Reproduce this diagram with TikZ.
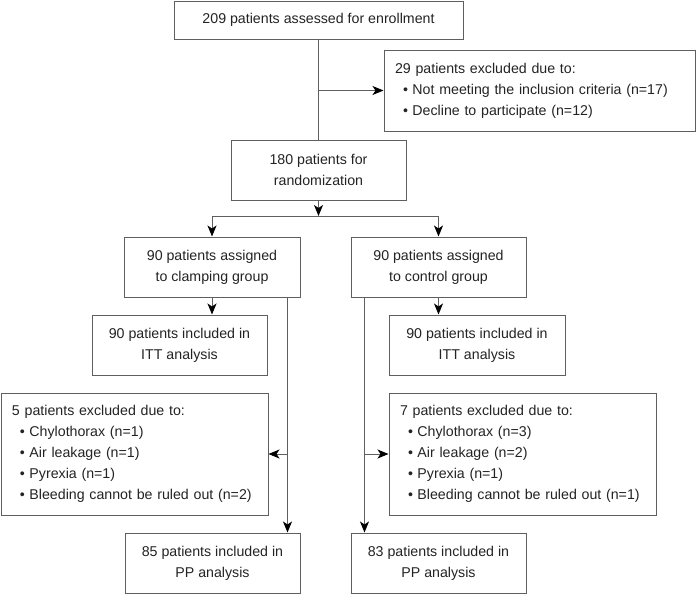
\documentclass[tikz,border=0pt]{standalone}
\usepackage{fontspec}
\setmainfont{Liberation Sans}
\usetikzlibrary{arrows.meta}

\definecolor{linegray}{RGB}{95,95,95}
\definecolor{textgray}{RGB}{35,35,35}
\newcommand{\bulletitem}{\hspace*{8pt}\textbullet\hspace{4.5pt}}

\begin{document}
\begin{tikzpicture}[x=1pt,y=-1pt,
    box/.style={draw=linegray, line width=1pt, text=textgray, inner sep=0pt,
        minimum width=175, minimum height=60, align=center,
        font=\fontsize{14.2}{21}\selectfont},
    exclbox/.style={box, inner xsep=11pt, text width=#1-22pt, align=left},
    link/.style={draw=linegray, line width=1pt},
    arrow/.style={link, -{Stealth[length=11pt,width=9pt,inset=3pt,color=black]}},
]
    \useasboundingbox (0,0) rectangle (696,595);

    \node[box, minimum width=289, minimum height=38] (enrol) at (318.5,20)
        {209 patients assessed for enrollment};
    \node[exclbox=311pt, minimum height=81] (excl) at (539.5,90.5)
        {29 patients excluded due to:\\
         \bulletitem Not meeting the inclusion criteria (n=17)\\
         \bulletitem Decline to participate (n=12)};
    \node[box] (rand) at (318.5,170) {180 patients for\\randomization};

    \node[box, minimum width=176] (clamp) at (212,267) {90 patients assigned\\to clamping group};
    \node[box] (ctrl) at (438.5,267) {90 patients assigned\\to control group};
    \node[box] (ittL) at (179.5,345) {90 patients included in\\ITT analysis};
    \node[box, minimum width=176] (ittR) at (477,345) {90 patients included in\\ITT analysis};

    \node[exclbox=267pt, minimum height=122] (exclL) at (134.5,454)
        {5 patients excluded due to:\\
         \bulletitem Chylothorax (n=1)\\
         \bulletitem Air leakage (n=1)\\
         \bulletitem Pyrexia (n=1)\\
         \bulletitem Bleeding cannot be ruled out (n=2)};
    \node[exclbox=267pt, minimum height=122] (exclR) at (522.5,454)
        {7 patients excluded due to:\\
         \bulletitem Chylothorax (n=3)\\
         \bulletitem Air leakage (n=2)\\
         \bulletitem Pyrexia (n=1)\\
         \bulletitem Bleeding cannot be ruled out (n=1)};

    \node[box] (ppL) at (212.5,563) {85 patients included in\\PP analysis};
    \node[box] (ppR) at (438.5,563) {83 patients included in\\PP analysis};

    % enrollment and randomization
    \draw[link] (enrol) -- (rand);
    \draw[arrow] (enrol.south |- excl.west) -- (excl.west);
    \coordinate (split) at (318.5,216);
    \draw[arrow] (rand) -- (split);
    \draw[link] (split -| clamp.north) -- (split -| ctrl.north);

    \foreach \grp/\itt in {clamp/ittL, ctrl/ittR} {
        \draw[arrow] (split -| \grp.north) -- (\grp);
        \draw[arrow] (\grp) -- (\grp.south |- \itt.north);
    }

    % per-protocol branches
    \coordinate (trunkL) at ([xshift=-13pt]clamp.south east);
    \coordinate (trunkR) at ([xshift=14pt]ctrl.south west);
    \draw[arrow] (trunkL) -- (trunkL |- ppL.north);
    \draw[arrow] (trunkL |- exclL.east) -- (exclL.east);
    \draw[arrow] (trunkR) -- (trunkR |- ppR.north);
    \draw[arrow] (trunkR |- exclR.west) -- (exclR.west);
\end{tikzpicture}
\end{document}
